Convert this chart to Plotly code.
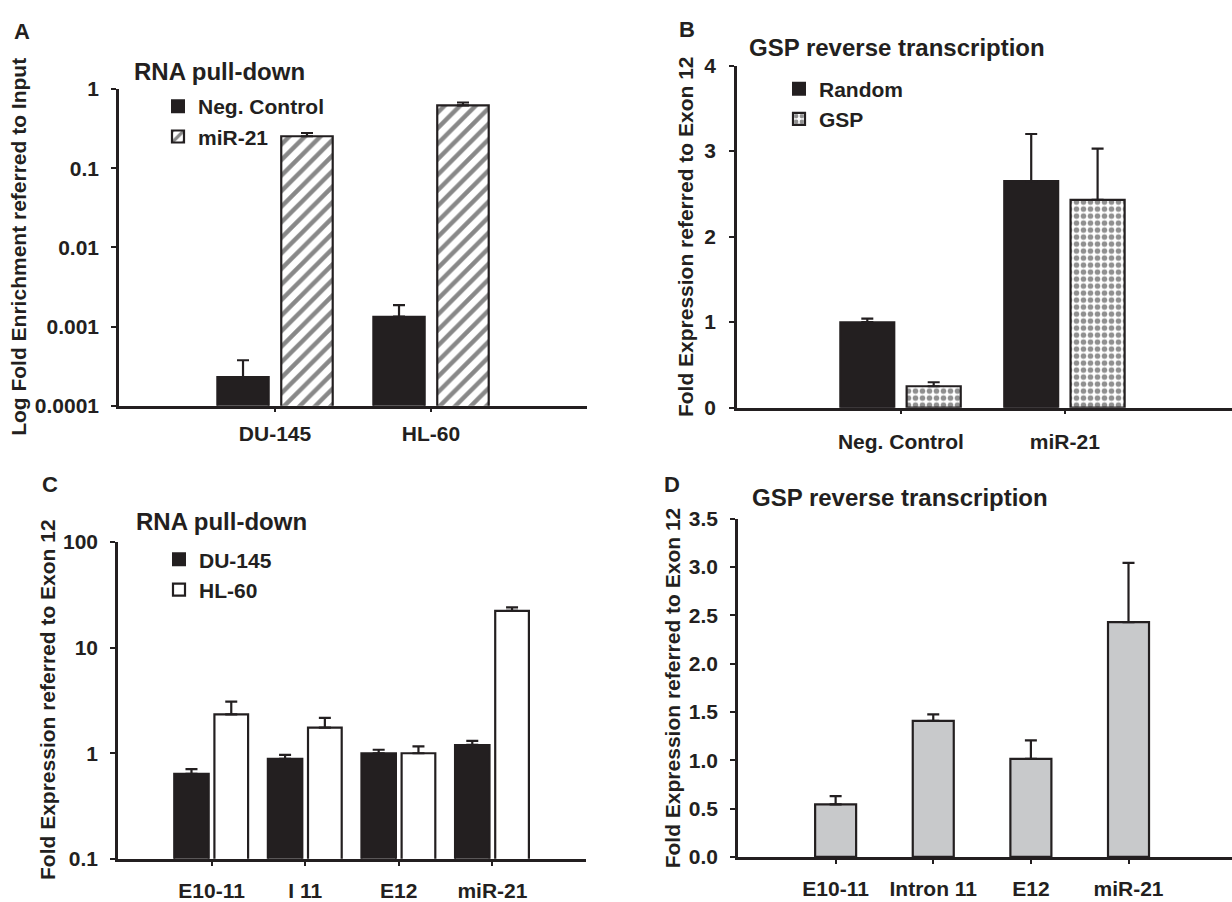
import plotly.graph_objects as go

# ---------------- data ----------------
a_categories = ["DU-145", "HL-60"]
a_neg = [0.00023, 0.00133]
a_neg_err = [0.000145, 0.00053]
a_mir = [0.253, 0.62]
a_mir_err = [0.025, 0.055]
a_yticks = [0.0001, 0.001, 0.01, 0.1, 1]
a_yticktext = ["0.0001", "0.001", "0.01", "0.1", "1"]

b_categories = ["Neg. Control", "miR-21"]
b_random = [1.0, 2.65]
b_random_err = [0.04, 0.55]
b_gsp = [0.25, 2.43]
b_gsp_err = [0.047, 0.60]
b_yticks = [0, 1, 2, 3, 4]

c_categories = ["E10-11", "I 11", "E12", "miR-21"]
c_du = [0.64, 0.887, 1.0, 1.20]
c_du_err = [0.067, 0.079, 0.08, 0.11]
c_hl = [2.34, 1.75, 1.0, 22.3]
c_hl_err = [0.74, 0.41, 0.16, 1.8]
c_yticks = [0.1, 1, 10, 100]
c_yticktext = ["0.1", "1", "10", "100"]

d_categories = ["E10-11", "Intron 11", "E12", "miR-21"]
d_vals = [0.544, 1.407, 1.014, 2.429]
d_err = [0.084, 0.068, 0.192, 0.614]
d_yticks = [0.0, 0.5, 1.0, 1.5, 2.0, 2.5, 3.0, 3.5]

# ---------------- styling ----------------
W, H = 1232, 902
INK = "#231f20"
FONT = "Liberation Sans, Arial, Helvetica, sans-serif"


def px(x):
    return x / W


def py(y):
    return 1 - y / H


def err(vals):
    return dict(type="data", array=vals, arrayminus=[0] * len(vals), symmetric=False,
                color=INK, thickness=2.2, width=6)


fig = go.Figure()

# Panel A
fig.add_trace(go.Bar(x=a_categories, y=a_neg, name="Neg. Control", xaxis="x", yaxis="y",
                     offset=-0.37, width=0.33,
                     marker=dict(color=INK, line=dict(color=INK, width=2)),
                     error_y=err(a_neg_err), legend="legend"))
fig.add_trace(go.Bar(x=a_categories, y=a_mir, name="miR-21", xaxis="x", yaxis="y",
                     offset=0.04, width=0.33,
                     marker=dict(color="white", line=dict(color=INK, width=2.2),
                                 pattern=dict(shape="/", fgcolor="#111111", bgcolor="white",
                                              size=11, solidity=0.4)),
                     error_y=err(a_mir_err), legend="legend"))

# Panel B
fig.add_trace(go.Bar(x=b_categories, y=b_random, name="Random", xaxis="x2", yaxis="y2",
                     offset=-0.37, width=0.33,
                     marker=dict(color=INK, line=dict(color=INK, width=2)),
                     error_y=err(b_random_err), legend="legend2"))
fig.add_trace(go.Bar(x=b_categories, y=b_gsp, name="GSP", xaxis="x2", yaxis="y2",
                     offset=0.035, width=0.33,
                     marker=dict(color="white", line=dict(color=INK, width=2.2),
                                 pattern=dict(shape=".", fgcolor="#222222", bgcolor="white",
                                              size=7, solidity=0.5)),
                     error_y=err(b_gsp_err), legend="legend2"))

# Panel C
fig.add_trace(go.Bar(x=c_categories, y=c_du, name="DU-145", xaxis="x3", yaxis="y3",
                     offset=-0.40, width=0.37,
                     marker=dict(color=INK, line=dict(color=INK, width=2)),
                     error_y=err(c_du_err), legend="legend3"))
fig.add_trace(go.Bar(x=c_categories, y=c_hl, name="HL-60", xaxis="x3", yaxis="y3",
                     offset=0.03, width=0.36,
                     marker=dict(color="white", line=dict(color=INK, width=2.2)),
                     error_y=err(c_hl_err), legend="legend3"))

# Panel D
fig.add_trace(go.Bar(x=d_categories, y=d_vals, name="GSP RT", xaxis="x4", yaxis="y4",
                     offset=-0.21, width=0.42, showlegend=False,
                     marker=dict(color="#c8c9cb", line=dict(color=INK, width=2.2)),
                     error_y=err(d_err)))

TICKFONT = dict(size=21, color=INK, family=FONT, weight="bold")
axis_common = dict(showline=True, linecolor=INK, linewidth=2.5, ticks="outside",
                   tickcolor=INK, tickwidth=2, ticklen=5, showgrid=False, zeroline=False,
                   tickfont=TICKFONT, fixedrange=True)

xcat = dict(axis_common, type="category", ticklen=4)

LEGFONT = dict(size=21, color=INK, family=FONT, weight="bold")
leg_common = dict(xanchor="left", yanchor="top", bgcolor="rgba(0,0,0,0)", font=LEGFONT,
                  tracegroupgap=0, itemclick=False, itemdoubleclick=False)

fig.update_layout(
    width=W, height=H,
    margin=dict(l=0, r=0, t=0, b=0),
    paper_bgcolor="white", plot_bgcolor="white",
    font=dict(family=FONT, color=INK, size=21, weight="bold"),
    barmode="overlay",
    xaxis=dict(xcat, domain=[px(119), px(587)], range=[-1, 2], anchor="y",
               ticklabelstandoff=3),
    yaxis=dict(axis_common, domain=[py(404), py(79)], type="log", range=[-4, 0],
               tickvals=a_yticks, ticktext=a_yticktext, anchor="x", ticklabelstandoff=8),
    xaxis2=dict(xcat, domain=[px(737), 1.0], range=[-1, 2.02], anchor="y2",
                ticklabelstandoff=9),
    yaxis2=dict(axis_common, domain=[py(406), py(55)], range=[0, 4],
                tickvals=b_yticks, anchor="x2", ticklabelstandoff=9),
    xaxis3=dict(xcat, domain=[px(118), px(586)], range=[-1, 4], anchor="y3",
                ticklabelstandoff=7),
    yaxis3=dict(axis_common, domain=[py(869), py(544)], type="log", range=[-1, 2],
                tickvals=c_yticks, ticktext=c_yticktext, anchor="x3", ticklabelstandoff=8),
    xaxis4=dict(xcat, domain=[px(738), 1.0], range=[-1, 4.06], anchor="y4",
                ticklabelstandoff=7),
    yaxis4=dict(axis_common, domain=[py(867), py(520)], range=[0, 3.5],
                tickvals=d_yticks, tickformat=".1f", anchor="x4", ticklabelstandoff=8),
    legend=dict(leg_common, x=px(158), y=py(76)),
    legend2=dict(leg_common, x=px(779), y=py(58)),
    legend3=dict(leg_common, x=px(159), y=py(541)),
)


def label(text, x, y, size, xanchor="left", angle=0):
    fig.add_annotation(text=text, x=px(x), y=py(y), xref="paper", yref="paper",
                       xanchor=xanchor, yanchor="middle", showarrow=False, textangle=angle,
                       font=dict(size=size, color=INK, family=FONT, weight="bold"))


# panel letters
label("A", 12, 20, 22)
label("B", 677, 18, 22)
label("C", 40, 485, 22)
label("D", 662, 485, 22)

# panel titles
label("RNA pull-down", 132, 61, 24)
label("GSP reverse transcription", 747, 36, 24)
label("RNA pull-down", 134, 523, 24)
label("GSP reverse transcription", 750, 498, 24)

# y-axis titles
label("Log Fold Enrichment referred to Input", 19, 241, 21, "center", -90)
label("Fold Expression referred to Exon 12", 685, 231, 21, "center", -90)
label("Fold Expression referred to Exon 12", 48, 706, 21, "center", -90)
label("Fold Expression referred to Exon 12", 672, 694, 21, "center", -90)

fig.write_html("out.html", config={"displayModeBar": False},
               post_script="document.body.style.margin='0';document.body.style.overflow='hidden';")
